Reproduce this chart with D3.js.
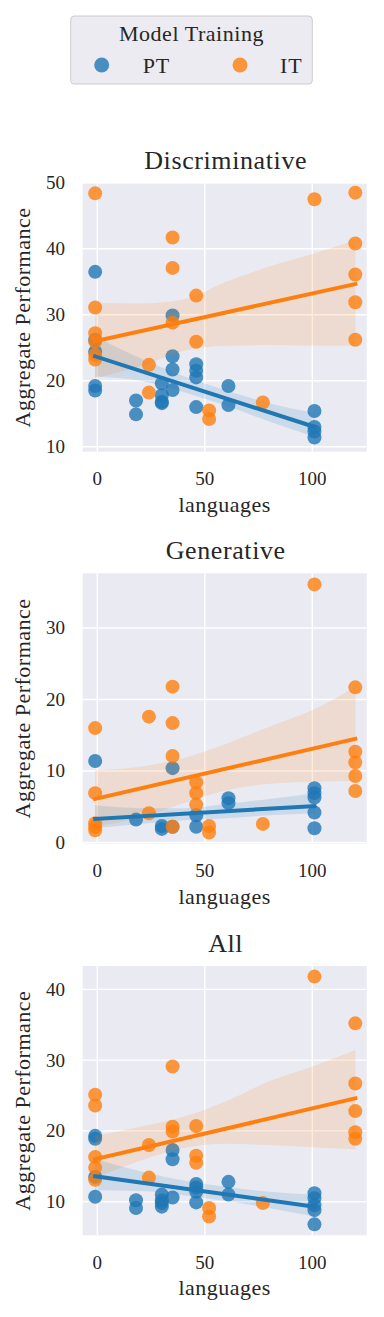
<!DOCTYPE html>
<html><head><meta charset="utf-8">
<script src="https://cdn.jsdelivr.net/npm/d3@7"></script>
<style>
html,body{margin:0;padding:0;background:#fff;}
text{font-family:"Liberation Serif","DejaVu Serif",serif;fill:#262626;}
</style></head>
<body><svg id="c" width="384" height="1317"></svg>
<script>
// ---------- data ----------
const series = ["PT", "IT"];
const panelTitles = ["Discriminative", "Generative", "All"];
const xTicks = [0, 50, 100];
const discYTicks = [10, 20, 30, 40, 50];
const genYTicks = [0, 10, 20, 30];
const allYTicks = [10, 20, 30, 40];

const discPT_lang = [-1,-1,-1,-1,-1, 18,18, 30,30,30,30, 35,35,35,35, 46,46,46,46, 61,61, 101,101,101,101];
const discPT_perf = [36.5,26.2,24.4,19.2,18.5, 17.0,14.9, 19.6,17.8,16.8,16.6, 29.9,23.7,21.7,18.6, 22.5,21.5,20.5,16.0, 19.2,16.3, 15.4,13.0,12.3,11.4];
const discIT_lang = [-1,-1,-1,-1,-1,-1, 24,24, 35,35,35, 46,46, 52,52, 77, 101, 120,120,120,120,120];
const discIT_perf = [48.4,31.1,27.2,25.9,23.9,23.2, 22.4,18.2, 41.7,37.1,28.8, 32.9,25.9, 15.5,14.2, 16.7, 47.5, 48.5,40.8,36.1,31.9,26.2];

const genPT_lang = [-1, 18, 30,30, 35,35, 46,46, 61,61, 101,101,101,101,101];
const genPT_perf = [11.4, 3.2, 2.3,1.9, 10.4,2.2, 3.8,2.2, 6.2,5.5, 7.6,6.9,6.3,4.2,2.0];
const genIT_lang = [-1,-1,-1,-1,-1, 24,24, 35,35,35,35, 46,46,46, 52,52, 77, 101, 120,120,120,120,120];
const genIT_perf = [16.0,6.9,2.7,2.2,1.7, 17.6,4.1, 21.8,16.7,12.1,2.2, 8.4,6.9,5.3, 2.3,1.4, 2.6, 36.1, 21.7,12.7,11.2,9.3,7.2];

const allPT_lang = [-1,-1,-1,-1, 18,18, 30,30,30,30, 35,35,35, 46,46,46,46, 61,61, 101,101,101,101,101];
const allPT_perf = [19.3,18.9,13.5,10.7, 10.2,9.1, 11.0,10.2,9.8,9.3, 17.3,16.0,10.6, 12.5,12.0,11.4,9.9, 12.8,11.0, 11.2,10.5,9.5,8.8,6.8];
const allIT_lang = [-1,-1,-1,-1,-1, 24,24, 35,35,35, 46,46,46, 52,52, 77, 101, 120,120,120,120,120];
const allIT_perf = [25.1,23.6,16.3,14.8,13.1, 18.0,13.4, 29.1,20.6,19.9, 20.7,16.5,15.5, 9.1,7.9, 9.8, 41.8, 35.2,26.7,22.8,19.8,18.9];

// regression fits (value at first and last language count)
const fitX_PT = [-1, 101];
const fitX_IT = [-1, 120];
const discPT_fit = [23.7, 13.0];
const discIT_fit = [26.0, 34.65];
const genPT_fit = [3.3, 5.1];
const genIT_fit = [6.1, 14.5];
const allPT_fit = [13.6, 9.3];
const allIT_fit = [16.0, 24.6];

// 95% confidence bands
const bandX_PT = [-1, 20, 40, 60, 80, 101];
const bandX_IT = [-1, 20, 40, 60, 80, 100, 120];
const discPT_lo = [20.6, 20.0, 18.3, 16.2, 13.8, 11.5];
const discPT_hi = [26.7, 23.4, 20.7, 18.5, 16.6, 15.1];
const discIT_lo = [20.4, 22.2, 24.5, 25.3, 25.4, 25.3, 25.3];
const discIT_hi = [31.8, 31.7, 32.3, 35.0, 37.3, 39.2, 41.3];
const genPT_lo = [2.0, 2.6, 3.1, 3.4, 3.8, 4.1];
const genPT_hi = [5.2, 4.8, 4.8, 5.4, 6.1, 6.9];
const genIT_lo = [2.2, 3.5, 5.5, 7.3, 8.2, 8.5, 8.6];
const genIT_hi = [10.1, 10.6, 11.8, 13.8, 16.2, 18.5, 21.8];
const allPT_lo = [11.6, 11.5, 10.9, 10.1, 9.1, 7.9];
const allPT_hi = [16.0, 14.3, 13.0, 12.1, 11.4, 11.0];
const allIT_lo = [13.4, 15.8, 17.6, 18.2, 18.0, 17.7, 17.4];
const allIT_hi = [19.3, 20.6, 22.0, 24.2, 27.0, 29.1, 31.4];

// ---------- assembly ----------
const colors = {PT: "#1f77b4", IT: "#ff7f0e"};
const panels = [
  {title: panelTitles[0], ticks: discYTicks, ydom: [9.24, 49.92], top: 183.3, bottom: 451.7,
   PT: {x: discPT_lang, y: discPT_perf, fit: discPT_fit, fx: fitX_PT, bx: bandX_PT, lo: discPT_lo, hi: discPT_hi},
   IT: {x: discIT_lang, y: discIT_perf, fit: discIT_fit, fx: fitX_IT, bx: bandX_IT, lo: discIT_lo, hi: discIT_hi}},
  {title: panelTitles[1], ticks: genYTicks, ydom: [-0.14, 37.65], top: 573.3, bottom: 843.5,
   PT: {x: genPT_lang, y: genPT_perf, fit: genPT_fit, fx: fitX_PT, bx: bandX_PT, lo: genPT_lo, hi: genPT_hi},
   IT: {x: genIT_lang, y: genIT_perf, fit: genIT_fit, fx: fitX_IT, bx: bandX_IT, lo: genIT_lo, hi: genIT_hi}},
  {title: panelTitles[2], ticks: allYTicks, ydom: [5.25, 43.3], top: 966, bottom: 1235.3,
   PT: {x: allPT_lang, y: allPT_perf, fit: allPT_fit, fx: fitX_PT, bx: bandX_PT, lo: allPT_lo, hi: allPT_hi},
   IT: {x: allIT_lang, y: allIT_perf, fit: allIT_fit, fx: fitX_IT, bx: bandX_IT, lo: allIT_lo, hi: allIT_hi}}
];

const svg = d3.select("#c");
const left = 82.7, right = 366.7;
const x = d3.scaleLinear().domain([-6.8, 125.3]).range([left, right]);

panels.forEach(p => {
  const y = d3.scaleLinear().domain(p.ydom).range([p.bottom, p.top]);
  const g = svg.append("g");
  g.append("rect").attr("x", left).attr("y", p.top).attr("width", right - left)
    .attr("height", p.bottom - p.top).attr("fill", "#eaeaf2");
  // grid
  g.selectAll(".gy").data(p.ticks).join("line")
    .attr("x1", left).attr("x2", right).attr("y1", d => y(d)).attr("y2", d => y(d))
    .attr("stroke", "#fff").attr("stroke-width", 1.4);
  g.selectAll(".gx").data(xTicks).join("line")
    .attr("y1", p.top).attr("y2", p.bottom).attr("x1", d => x(d)).attr("x2", d => x(d))
    .attr("stroke", "#fff").attr("stroke-width", 1.4);
  // tick labels
  g.selectAll(".ty").data(p.ticks).join("text")
    .attr("x", 65).attr("y", d => y(d) + 6.5).attr("text-anchor", "end")
    .attr("font-size", 19).text(d => d);
  g.selectAll(".tx").data(xTicks).join("text")
    .attr("x", d => x(d)).attr("y", p.bottom + 33.5).attr("text-anchor", "middle")
    .attr("font-size", 19).text(d => d);
  // labels
  g.append("text").attr("x", (left + right) / 2).attr("y", p.bottom + 60)
    .attr("text-anchor", "middle").attr("font-size", 22).attr("letter-spacing", 0.5).text("languages");
  g.append("text").attr("transform", `translate(30,${(p.top + p.bottom) / 2}) rotate(-90)`)
    .attr("text-anchor", "middle").attr("font-size", 22).attr("letter-spacing", 0.5).text("Aggregate Performance");
  g.append("text").attr("x", (left + right) / 2 + 1).attr("y", p.top - 14.3)
    .attr("text-anchor", "middle").attr("font-size", 26).attr("letter-spacing", 0.6).text(p.title);

  const plot = g.append("g");
  const drawn = {};
  // zorder 1 layer: scatter + band in series order
  series.forEach(s => {
    const d = p[s], c = colors[s];
    const pts = d.x.map((v, i) => [v, d.y[i]]);
    plot.append("g").selectAll("circle").data(pts).join("circle")
      .attr("cx", v => x(v[0])).attr("cy", v => y(v[1])).attr("r", 7)
      .attr("fill", c).attr("fill-opacity", 0.8);
    const band = d.bx.map((v, i) => [v, d.lo[i], d.hi[i]]);
    plot.append("path").datum(band)
      .attr("d", d3.area().x(v => x(v[0])).y0(v => y(v[1])).y1(v => y(v[2])).curve(d3.curveMonotoneX))
      .attr("fill", c).attr("fill-opacity", 0.15);
  });
  // zorder 2 layer: regression lines
  series.forEach(s => {
    const d = p[s];
    const pts = d.fx.map((v, i) => [v, d.fit[i]]);
    plot.append("path").datum(pts)
      .attr("d", d3.line().x(v => x(v[0])).y(v => y(v[1])))
      .attr("stroke", colors[s]).attr("stroke-width", 4).attr("fill", "none")
      .attr("stroke-linecap", "square");
  });
});

// legend
const lg = svg.append("g");
lg.append("rect").attr("x", 70.7).attr("y", 16).attr("width", 241.6).attr("height", 68)
  .attr("rx", 3.5).attr("fill", "#ecebf2").attr("stroke", "#cccccc").attr("stroke-width", 1);
lg.append("text").attr("x", 191.5).attr("y", 40.7).attr("text-anchor", "middle")
  .attr("font-size", 22).attr("letter-spacing", 0.55).text("Model Training");
const legX = {PT: 101.7, IT: 240};
series.forEach(s => {
  lg.append("circle").attr("cx", legX[s]).attr("cy", 65).attr("r", 7.5)
    .attr("fill", colors[s]).attr("fill-opacity", 0.8);
  lg.append("text").attr("x", legX[s] + (s === "PT" ? 41 : 40)).attr("y", 72.7)
    .attr("font-size", 22).attr("letter-spacing", 0.8).text(s);
});
</script></body></html>
